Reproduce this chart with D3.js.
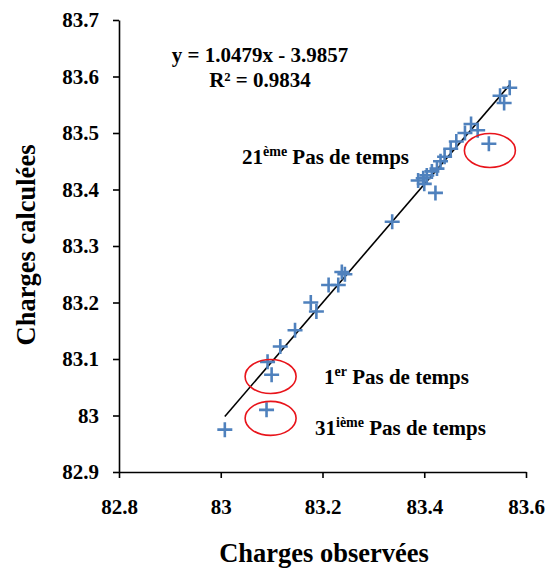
<!DOCTYPE html>
<html>
<head>
<meta charset="utf-8">
<script src="https://cdn.jsdelivr.net/npm/d3@7"></script>
<style>
  body { margin: 0; background: #fff; }
  svg { display: block; }
  text { font-family: "Liberation Serif", "Times New Roman", serif; font-weight: bold; fill: #000; }
</style>
</head>
<body>
<div id="chart"></div>
<script>
// Data
const observed = [83.008, 83.090, 83.100, 83.092, 83.117, 83.146, 83.177, 83.188, 83.212, 83.231,
  83.238, 83.244, 83.337, 83.388, 83.400, 83.422, 83.405, 83.415, 83.425, 83.432,
  83.440, 83.452, 83.463, 83.480, 83.492, 83.505, 83.527, 83.549, 83.557, 83.568, 83.398];
const calculated = [82.975, 83.010, 83.072, 83.095, 83.122, 83.151, 83.200, 83.184, 83.231, 83.231,
  83.254, 83.250, 83.343, 83.416, 83.410, 83.394, 83.425, 83.432, 83.437, 83.450,
  83.458, 83.472, 83.485, 83.500, 83.516, 83.505, 83.481, 83.566, 83.553, 83.580, 83.420];
const xTicks = [82.8, 83, 83.2, 83.4, 83.6];
const yTicks = [82.9, 83, 83.1, 83.2, 83.3, 83.4, 83.5, 83.6, 83.7];
const slope = 1.0479, intercept = -3.9857;
const equationText = "y = 1.0479x - 3.9857";
const r2Text = "R² = 0.9834";
// annotations: highlighted points (ellipse centres in data units) and labels
const highlights = [
  { obs: 83.529, calc: 83.469 },
  { obs: 83.098, calc: 83.069 },
  { obs: 83.098, calc: 82.995 }
];
const notes = [
  { num: "21", sup: "ème", rest: " Pas de temps", x: 242, y: 164 },
  { num: "1", sup: "er", rest: " Pas de temps", x: 324, y: 384 },
  { num: "31", sup: "ième", rest: " Pas de temps", x: 315, y: 435 }
];

const W = 552, H = 570;
const svg = d3.select("#chart").append("svg").attr("width", W).attr("height", H);

const x = d3.scaleLinear().domain([82.8, 83.6]).range([119, 526]);
const y = d3.scaleLinear().domain([82.9, 83.7]).range([472, 20]);
const fmt = d => String(+d.toFixed(1));

const gx = svg.append("g").attr("transform", `translate(0,${y(82.9)})`)
  .call(d3.axisBottom(x).tickValues(xTicks).tickFormat(fmt).tickSize(6).tickSizeOuter(0).tickPadding(21));
const gy = svg.append("g").attr("transform", `translate(${x(82.8)},0)`)
  .call(d3.axisLeft(y).tickValues(yTicks).tickFormat(fmt).tickSize(6).tickSizeOuter(0).tickPadding(14));
[gx, gy].forEach(g => {
  g.selectAll("path.domain").attr("stroke", "#000").attr("stroke-width", 1.6);
  g.selectAll(".tick line").attr("stroke", "#000").attr("stroke-width", 1.6);
  g.selectAll(".tick text").attr("font-size", 21).attr("font-family", "Liberation Serif").attr("font-weight", "bold").attr("fill", "#000");
});

// regression line across the data range
const xMin = d3.min(observed), xMax = d3.max(observed);
svg.append("line")
  .attr("x1", x(xMin)).attr("y1", y(slope * xMin + intercept))
  .attr("x2", x(xMax)).attr("y2", y(slope * xMax + intercept))
  .attr("stroke", "#000").attr("stroke-width", 1.6);

// plus markers
const pts = observed.map((o, i) => ({ o, c: calculated[i] }));
const m = 7.5;
const g = svg.append("g").attr("stroke", "#4F81BD").attr("stroke-width", 2.6);
g.selectAll("path").data(pts).join("path")
  .attr("d", d => `M${x(d.o) - m},${y(d.c)}H${x(d.o) + m}M${x(d.o)},${y(d.c) - m}V${y(d.c) + m}`);

// red ellipses
svg.selectAll("ellipse").data(highlights).join("ellipse")
  .attr("cx", d => x(d.obs)).attr("cy", d => y(d.calc))
  .attr("rx", 25.5).attr("ry", 17)
  .attr("fill", "none").attr("stroke", "#E8141B").attr("stroke-width", 1.6);

// equation
svg.append("text").attr("x", 260).attr("y", 62).attr("text-anchor", "middle").attr("font-size", 21).text(equationText);
svg.append("text").attr("x", 260).attr("y", 87).attr("text-anchor", "middle").attr("font-size", 21).text(r2Text);

// annotation labels
notes.forEach(n => {
  const t = svg.append("text").attr("x", n.x).attr("y", n.y).attr("font-size", 21);
  t.append("tspan").text(n.num);
  t.append("tspan").attr("font-size", 14).attr("dy", -8).text(n.sup);
  t.append("tspan").attr("dy", 8).text(n.rest);
});

// axis titles
svg.append("text").attr("x", 324).attr("y", 562).attr("text-anchor", "middle").attr("font-size", 26.5).text("Charges observées");
svg.append("text").attr("transform", `translate(35,${245}) rotate(-90)`).attr("text-anchor", "middle").attr("font-size", 26.5).text("Charges calculées");
</script>
</body>
</html>
